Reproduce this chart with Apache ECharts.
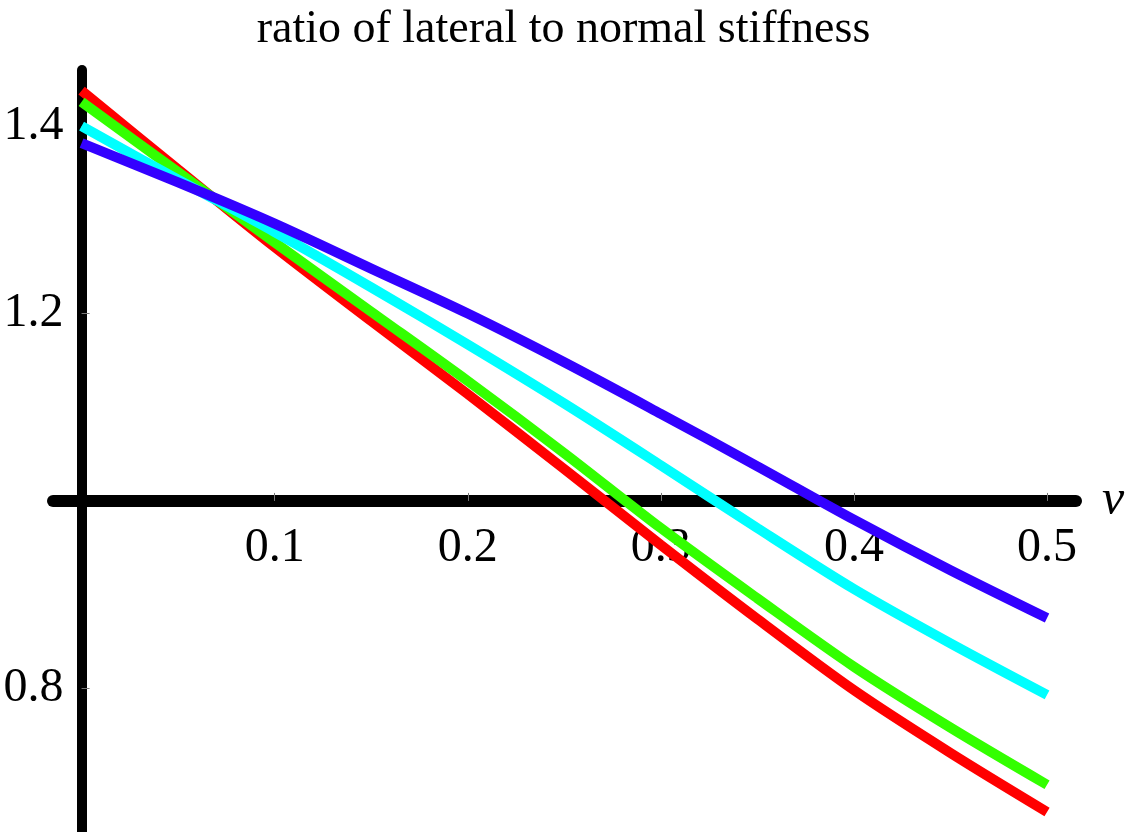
<!DOCTYPE html>
<html>
<head>
<meta charset="utf-8">
<script src="https://cdn.jsdelivr.net/npm/echarts@6/dist/echarts.min.js"></script>
<style>
  html, body { margin: 0; padding: 0; background: #ffffff; }
  #chart { width: 1127px; height: 832px; }
</style>
</head>
<body>
<div id="chart"></div>
<script>
// ---- data ----
const TITLE = 'ratio of lateral to normal stiffness';
const X_NAME = 'ν';
const NU = [0, 0.05, 0.1, 0.15, 0.2, 0.25, 0.3, 0.35, 0.4, 0.45, 0.5];
const RED_VALUES   = [1.438, 1.354, 1.271, 1.192, 1.114, 1.034, 0.953, 0.874, 0.798, 0.731, 0.668];
const GREEN_VALUES = [1.426, 1.351, 1.276, 1.202, 1.128, 1.051, 0.971, 0.896, 0.823, 0.758, 0.697];
const CYAN_VALUES  = [1.400, 1.343, 1.287, 1.228, 1.167, 1.104, 1.038, 0.971, 0.906, 0.848, 0.793];
const BLUE_VALUES  = [1.382, 1.340, 1.296, 1.248, 1.200, 1.148, 1.093, 1.037, 0.980, 0.926, 0.875];
const X_TICKS = [0.1, 0.2, 0.3, 0.4, 0.5];
const Y_TICKS = [0.8, 1.2, 1.4];
const X_RANGE = [-0.0148, 0.515];
const Y_RANGE = [0.6466, 1.46];
const X_AXIS_CROSS = 1.0;   // horizontal axis drawn at y = 1

// ---- styles ----
const FONT = 'Liberation Serif';
const COLORS = ['#ff0000', '#33ff00', '#00ffff', '#3300ff'];
const GRID = { left: 53, right: 51, top: 70, bottom: 0 };
const H = 832;
const W = 1127;

const chart = echarts.init(document.getElementById('chart'), null, { renderer: 'canvas' });
const gridH = H - GRID.top - GRID.bottom;
const gridW = W - GRID.left - GRID.right;
const xOffset = -((X_AXIS_CROSS - Y_RANGE[0]) / (Y_RANGE[1] - Y_RANGE[0])) * gridH;
// distance from grid left edge to x = 0 (where the vertical axis line sits)
const yAxisShift = ((0 - X_RANGE[0]) / (X_RANGE[1] - X_RANGE[0])) * gridW;

const seriesValues = [RED_VALUES, GREEN_VALUES, CYAN_VALUES, BLUE_VALUES];

chart.setOption({
  animation: false,
  backgroundColor: '#ffffff',
  title: {
    text: TITLE,
    left: 'center',
    top: 2,
    textStyle: { fontFamily: FONT, fontSize: 46, fontWeight: 'normal', color: '#000' }
  },
  grid: Object.assign({ outerBoundsMode: 'none', containLabel: false }, GRID),
  xAxis: {
    type: 'value',
    min: X_RANGE[0],
    max: X_RANGE[1],
    position: 'bottom',
    offset: xOffset,
    name: X_NAME,
    nameLocation: 'end',
    nameGap: 26,
    nameTextStyle: { fontFamily: FONT, fontStyle: 'italic', fontSize: 50, color: '#000',
                     verticalAlign: 'middle', padding: [14, 0, 0, 0] },
    axisLine: { show: true, onZero: false, lineStyle: { color: '#000', width: 12 } },
    axisTick: { show: true, inside: true, length: 8, customValues: X_TICKS, lineStyle: { color: '#777', width: 1 } },
    axisLabel: {
      show: true, customValues: X_TICKS, margin: 23,
      fontFamily: FONT, fontSize: 48, color: '#000',
      formatter: v => v.toFixed(1)
    },
    splitLine: { show: false }
  },
  yAxis: {
    type: 'value',
    min: Y_RANGE[0],
    max: Y_RANGE[1],
    axisLine: { show: true, onZero: true, lineStyle: { color: '#000', width: 10 } },
    axisTick: { show: true, inside: true, length: 8, customValues: Y_TICKS, lineStyle: { color: '#777', width: 1 } },
    axisLabel: {
      show: true, customValues: Y_TICKS, margin: 18 - yAxisShift,
      fontFamily: FONT, fontSize: 48, color: '#000',
      formatter: v => v.toFixed(1)
    },
    splitLine: { show: false }
  },
  series: seriesValues.map((vals, i) => ({
    type: 'line',
    data: NU.map((x, j) => [x, vals[j]]),
    showSymbol: false,
    smooth: 0.3,
    lineStyle: { color: COLORS[i], width: 10, cap: 'butt' },
    z: 2 + i
  }))
});
</script>
</body>
</html>
